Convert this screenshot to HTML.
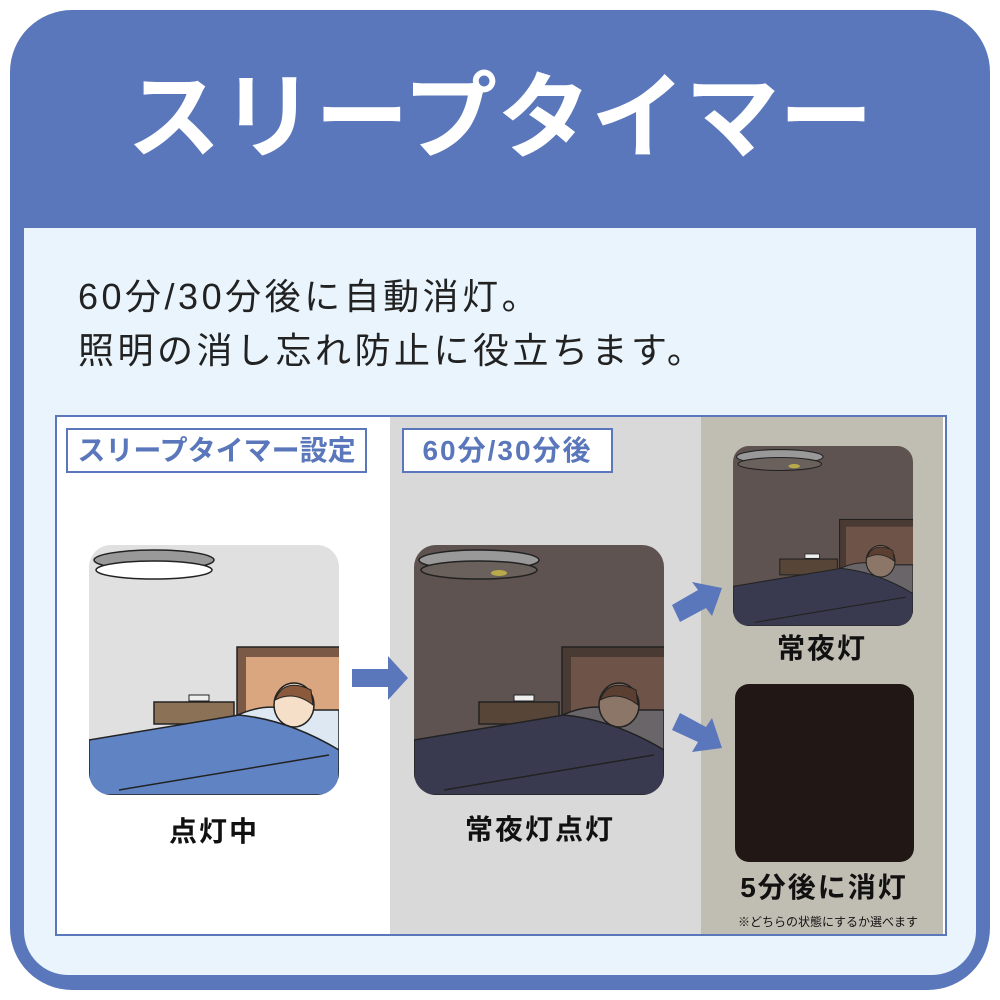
<!DOCTYPE html>
<html><head><meta charset="utf-8"><style>
body{margin:0;width:1000px;height:1000px;background:#fff;font-family:"Liberation Sans","Noto Sans CJK JP",sans-serif;position:relative;overflow:hidden}
.abs{position:absolute}
.t{position:absolute;white-space:nowrap;text-align:center;transform:translateX(-50%);font-weight:bold;color:#111}
.tag{position:absolute;border:2px solid #5b77bb;background:#fff;color:#5b77bb;font-weight:bold;font-size:28px;line-height:41px;text-align:center}
</style></head><body>
<div class="abs" style="left:10px;top:10px;width:980px;height:980px;background:#5b77bb;border-radius:62px"></div>
<div class="abs" style="left:24px;top:228px;width:952px;height:747px;background:#e9f4fc;border-radius:0 0 44px 44px"></div>
<div class="t" style="left:500px;top:58px;font-size:94px;color:#fff;line-height:120px">スリープタイマー</div>
<div class="abs" style="left:78px;top:270px;font-size:36px;line-height:54px;color:#222;letter-spacing:3.5px">60分/30分後に自動消灯。<br>照明の消し忘れ防止に役立ちます。</div>
<div class="abs" style="left:55px;top:415px;width:888px;height:517px;border:2px solid #5b77bb;background:#fff"></div>
<div class="abs" style="left:390px;top:417px;width:311px;height:517px;background:#d9d9d9"></div>
<div class="abs" style="left:701px;top:417px;width:242px;height:517px;background:#c0bdb3"></div>
<div class="tag" style="left:66px;top:428px;width:297px;height:41px">スリープタイマー設定</div>
<div class="tag" style="left:402px;top:428px;width:207px;height:41px;letter-spacing:2px">60分/30分後</div>

<svg class="abs" style="left:0;top:0" width="1000" height="1000">
<defs>
<clipPath id="c1"><rect x="0" y="0" width="250" height="250" rx="22"/></clipPath>
<g id="scene">
<rect x="5" y="5" width="120" height="20" rx="60" ry="10" fill="#999" stroke="#222" stroke-width="1.5"/>
<ellipse cx="65" cy="25" rx="58" ry="9" fill="var(--lamp)" stroke="#222" stroke-width="1.5"/>
<rect x="148" y="102" width="110" height="70" fill="var(--wood)" stroke="#222" stroke-width="1.5"/>
<rect x="157" y="112" width="100" height="60" fill="var(--board)"/>
<rect x="65" y="157" width="80" height="22" fill="var(--stand)" stroke="#222" stroke-width="1.5"/>
<rect x="100" y="150" width="20" height="6" fill="#eee" stroke="#222"/>
<path d="M130 180 Q170 155 200 165 L250 165 L250 215 L140 200Z" fill="var(--pillow)" stroke="#222" stroke-width="1.5"/>
<ellipse cx="205" cy="160" rx="20" ry="22" fill="var(--skin)" stroke="#222" stroke-width="1.5"/>
<path d="M186 155 Q195 132 222 145 L224 160 Q205 145 186 155Z" fill="var(--hair)" stroke="#222"/>
<path d="M0 195 L150 170 Q200 175 250 205 L250 250 L0 250Z" fill="var(--blanket)" stroke="#222" stroke-width="1.5"/>
<path d="M30 245 L240 210" stroke="#222" stroke-width="1.5"/>
</g>
</defs>
<g transform="translate(89,545)" clip-path="url(#c1)" style="--lamp:#fff;--wood:#7a5a46;--board:#d9a67f;--stand:#8b7257;--pillow:#dde8f3;--skin:#f5dfc8;--hair:#8b5a3c;--blanket:#6083c4">
<rect width="250" height="250" fill="#e0e0e0"/><use href="#scene"/></g>
<g transform="translate(414,545)" clip-path="url(#c1)" style="--lamp:#6a605c;--wood:#4a3a34;--board:#6e5348;--stand:#574638;--pillow:#6a6568;--skin:#8c7668;--hair:#5b4032;--blanket:#393a4f">
<rect width="250" height="250" fill="#5e5350"/><use href="#scene"/><ellipse cx="85" cy="28" rx="8" ry="3" fill="#b8a94a"/></g>
<g transform="translate(733,446) scale(0.72)" clip-path="url(#c1)" style="--lamp:#6a605c;--wood:#4a3a34;--board:#6e5348;--stand:#574638;--pillow:#6a6568;--skin:#8c7668;--hair:#5b4032;--blanket:#393a4f">
<rect width="250" height="250" fill="#5e5350"/><use href="#scene"/><ellipse cx="85" cy="28" rx="8" ry="3" fill="#b8a94a"/></g>
<rect x="735" y="684" width="179" height="178" rx="14" fill="#211816"/>
<polygon points="352,669 388,669 388,656 408,678 388,700 388,687 352,687" fill="#5b77bb"/>
<polygon points="672,605 698,590 692,582 722,588 712,616 706,608 680,622" fill="#5b77bb"/>
<polygon points="680,713 706,727 712,718 722,748 692,752 698,742 672,730" fill="#5b77bb"/>
</svg>
<div class="t" style="left:214px;top:810px;font-size:28px;letter-spacing:2px">点灯中</div>
<div class="t" style="left:540px;top:808px;font-size:28px;letter-spacing:2px">常夜灯点灯</div>
<div class="t" style="left:822px;top:627px;font-size:28px;letter-spacing:2px">常夜灯</div>
<div class="t" style="left:824px;top:866px;font-size:28px;letter-spacing:2px">5分後に消灯</div>
<div class="t" style="left:828px;top:913px;font-size:12px;font-weight:normal">※どちらの状態にするか選べます</div>
</body></html>
